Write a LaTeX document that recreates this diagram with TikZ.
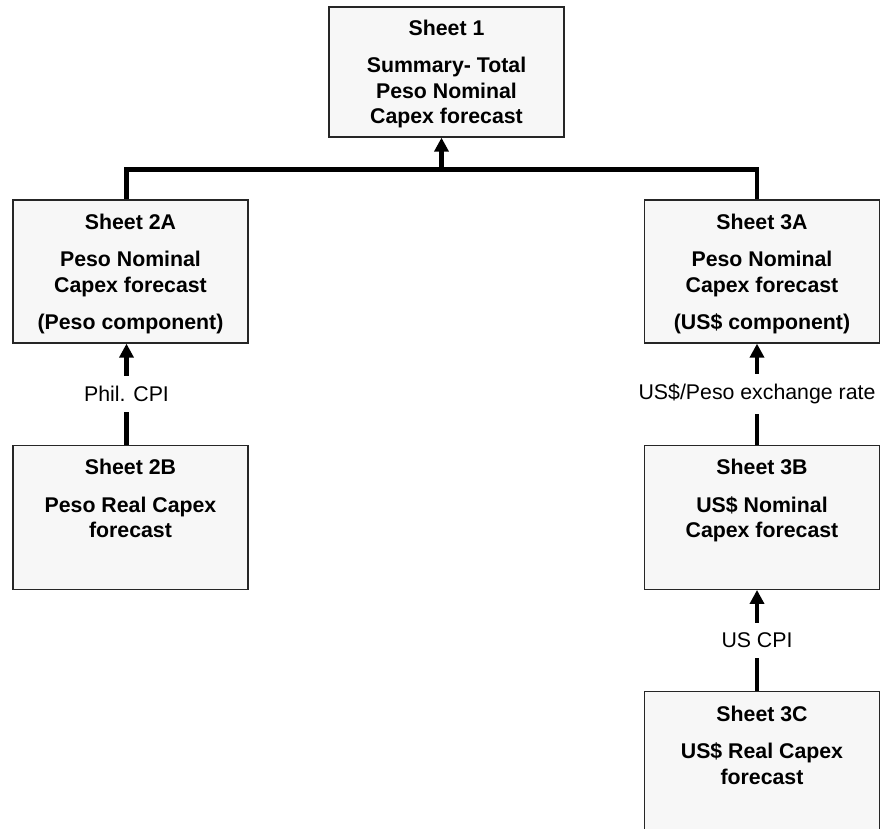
\documentclass[tikz,border=0pt]{standalone}
\usepackage{fontspec}
\setmainfont{Liberation Sans}
\usepackage{tikz}
\usetikzlibrary{positioning,arrows.meta}
\definecolor{sheetgray}{HTML}{F7F7F7}
\tikzset{%
  sheet/.style    = { draw = black!85, fill = sheetgray, line width = 1.3pt, inner sep = 0pt,
                      minimum width = 235pt, minimum height = #1, node distance = 101pt },
  title/.style    = { align = center, inner sep = 0pt,
                      font = \bfseries\fontsize{21.3}{25.5}\selectfont },
  link/.style     = { line width = 4.5pt, draw = black },
  arrow/.style    = { link, -{Triangle[length=14pt, width=14pt]} },
  rate/.style     = { fill = white, inner xsep = 2pt, inner ysep = 10pt,
                      font = \fontsize{21.3}{25.5}\selectfont }
}

\begin{document}
\begin{tikzpicture}[x=1pt,y=-1pt]
  \useasboundingbox (0,0) rectangle (888,829);
  % boxes
  \node(s1)[sheet=130pt] at (446.5,72) {};
  \node(s2a)[sheet=143pt] at (130.5,271.5) {};
  \node(s3a)[sheet=143pt] at (762,271.5) {};
  \node(s2b)[sheet=144pt, below = of s2a] {};
  \node(s3b)[sheet=144pt, below = of s3a] {};
  \node(s3c)[sheet=160pt, below = of s3b] {};
  % texts
  \node(t1)[title, below = 13.5pt of s1.north]
    {Sheet 1\\[12pt] Summary- Total\\ Peso Nominal\\ Capex forecast};
  \node(t2a)[title, below = 14.5pt of s2a.north]
    {Sheet 2A\\[12pt] Peso Nominal\\ Capex forecast\\[12pt] (Peso component)};
  \node(t3a)[title, below = 14.5pt of s3a.north]
    {Sheet 3A\\[12pt] Peso Nominal\\ Capex forecast\\[12pt] (US\$ component)};
  \node(t2b)[title, below = 14.5pt of s2b.north]
    {Sheet 2B\\[12pt] Peso Real Capex\\ forecast};
  \node(t3b)[title, below = 14.5pt of s3b.north]
    {Sheet 3B\\[12pt] US\$ Nominal\\ Capex forecast};
  \node(t3c)[title, below = 14.5pt of s3c.north]
    {Sheet 3C\\[12pt] US\$ Real Capex\\ forecast};
  % connectors
  \coordinate(bus) at ([yshift=-32pt]s1.south);
  \draw[link] ([xshift=-4pt]s2a.north) |- (bus) -| ([xshift=-5pt]s3a.north);
  \draw[arrow] ([xshift=-5pt]bus) -- ([xshift=-5pt]s1.south);
  \draw[arrow] ([xshift=-4pt]s2b.north) -- node[rate] {Phil. CPI} ([xshift=-4pt]s2a.south);
  \draw[arrow] ([xshift=-5pt]s3b.north) -- node[rate] {US\$/Peso exchange rate} ([xshift=-5pt]s3a.south);
  \draw[arrow] ([xshift=-5pt]s3c.north) -- node[rate] {US CPI} ([xshift=-5pt]s3b.south);
\end{tikzpicture}
\end{document}
